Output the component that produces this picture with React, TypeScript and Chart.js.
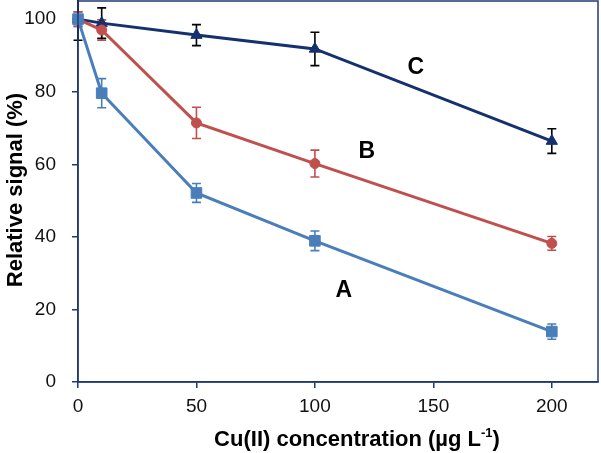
import React, { useEffect, useRef } from "react";
import { Chart, registerables } from "chart.js";

Chart.register(...registerables);

const concentrations = [0, 10, 50, 100, 200];
const signalA = [100, 79.6, 52.1, 38.9, 13.9];
const signalB = [100, 97, 71.4, 60.2, 38.2];
const signalC = [100, 98.9, 95.6, 91.8, 66.4];
const errorA = [2, 4, 2.6, 2.7, 2.1];
const errorB = [2, 2.8, 4.3, 3.7, 1.9];
const errorC = [5.8, 4.2, 2.9, 4.6, 3.4];
const seriesNames = ["A", "B", "C"];
const labelX = [112.2, 121.9, 142.6];
const labelY = [25.3, 63.4, 86.5];
const xTicks = [0, 50, 100, 150, 200];
const yTicks = [0, 20, 40, 60, 80, 100];

const COLOR_A = "#4A7EBB";
const COLOR_B = "#C0504D";
const COLOR_C = "#14306E";
const AXIS = "#1F3A72";
const FONT = "'Liberation Sans', Arial, sans-serif";

export default function App() {
  const ref = useRef<HTMLCanvasElement>(null);
  useEffect(() => {
    document.body.style.margin = "0";
    const errs = [errorA, errorB, errorC];
    const errColors = [COLOR_A, COLOR_B, "#000000"];
    const plugin = {
      id: "extras",
      beforeDatasetsDraw(chart: any) {
        const ctx = chart.ctx;
        const xs = chart.scales.x;
        const ys = chart.scales.y;
        ctx.save();
        chart.data.datasets.forEach((ds: any, i: number) => {
          ctx.strokeStyle = errColors[i];
          ctx.lineWidth = 1.6;
          ds.data.forEach((p: any, j: number) => {
            const px = xs.getPixelForValue(p.x);
            const t = ys.getPixelForValue(p.y + errs[i][j]);
            const b = ys.getPixelForValue(p.y - errs[i][j]);
            ctx.beginPath();
            ctx.moveTo(px, t);
            ctx.lineTo(px, b);
            ctx.moveTo(px - 4.5, t);
            ctx.lineTo(px + 4.5, t);
            ctx.moveTo(px - 4.5, b);
            ctx.lineTo(px + 4.5, b);
            ctx.stroke();
          });
        });
        ctx.restore();
      },
      afterDraw(chart: any) {
        const ctx = chart.ctx;
        const xs = chart.scales.x;
        const ys = chart.scales.y;
        const a = chart.chartArea;
        ctx.save();
        ctx.strokeStyle = AXIS;
        ctx.lineWidth = 1.5;
        ctx.strokeRect(a.left, a.top, a.right - a.left, a.bottom - a.top);
        ctx.fillStyle = "#000";
        ctx.font = `bold 23px ${FONT}`;
        ctx.textAlign = "center";
        ctx.textBaseline = "middle";
        seriesNames.forEach((n, i) => {
          ctx.fillText(n, xs.getPixelForValue(labelX[i]), ys.getPixelForValue(labelY[i]));
        });
        ctx.textBaseline = "alphabetic";
        ctx.textAlign = "left";
        const main = "Cu(II) concentration (µg L";
        const sup = "-1";
        const end = ")";
        ctx.font = `bold 22px ${FONT}`;
        const w1 = ctx.measureText(main).width;
        const w3 = ctx.measureText(end).width;
        ctx.font = `bold 13px ${FONT}`;
        const w2 = ctx.measureText(sup).width;
        const total = w1 + w2 + w3;
        const cx = 357;
        const x0 = cx - total / 2;
        const base = 446;
        ctx.font = `bold 22px ${FONT}`;
        ctx.fillText(main, x0, base);
        ctx.font = `bold 13px ${FONT}`;
        ctx.fillText(sup, x0 + w1, base - 9);
        ctx.font = `bold 22px ${FONT}`;
        ctx.fillText(end, x0 + w1 + w2, base);
        ctx.translate(22, 190);
        ctx.rotate(-Math.PI / 2);
        ctx.textAlign = "center";
        ctx.fillText("Relative signal (%)", 0, 0);
        ctx.restore();
      },
    };

    const mk = (label: string, vals: number[], color: string, style: string, r: number) => ({
      label,
      data: concentrations.map((c, i) => ({ x: c, y: vals[i] })),
      borderColor: color,
      backgroundColor: color,
      borderWidth: 3,
      pointStyle: style,
      pointRadius: r,
      pointBorderWidth: 1,
      pointBorderColor: color,
      pointBackgroundColor: color,
      showLine: true,
      tension: 0,
      clip: false,
    });

    const chart = new Chart(ref.current!, {
      type: "scatter",
      data: {
        datasets: [
          mk("A", signalA, COLOR_A, "rect", 7.5),
          mk("B", signalB, COLOR_B, "circle", 5),
          mk("C", signalC, COLOR_C, "triangle", 6.5),
        ],
      },
      options: {
        animation: false,
        responsive: false,
        maintainAspectRatio: false,
        layout: { autoPadding: false, padding: { top: 1, right: 3, left: 0, bottom: 0 } },
        plugins: { legend: { display: false }, tooltip: { enabled: false } },
        scales: {
          x: {
            type: "linear",
            min: 0,
            max: 219.5,
            afterBuildTicks: (s: any) => {
              s.ticks = xTicks.map((v) => ({ value: v }));
            },
            afterFit: (s: any) => {
              s.height = 71;
              s.paddingLeft = 0;
              s.paddingRight = 0;
            },
            grid: { display: true, drawOnChartArea: false, drawTicks: true, tickLength: 6, color: AXIS, lineWidth: 1.5 },
            border: { display: true, color: AXIS, width: 1.5 },
            ticks: { color: "#111", font: { family: FONT, size: 19 }, padding: 7, maxRotation: 0 },
          },
          y: {
            type: "linear",
            min: 0,
            max: 105,
            afterBuildTicks: (s: any) => {
              s.ticks = yTicks.map((v) => ({ value: v }));
            },
            afterFit: (s: any) => {
              s.width = 78;
              s.paddingTop = 0;
              s.paddingBottom = 0;
            },
            grid: { display: true, drawOnChartArea: false, drawTicks: true, tickLength: 6, color: AXIS, lineWidth: 1.5 },
            border: { display: true, color: AXIS, width: 1.5 },
            ticks: { color: "#111", font: { family: FONT, size: 19 }, padding: 16 },
          },
        },
      },
      plugins: [plugin],
    } as any);
    return () => chart.destroy();
  }, []);
  return (
    <div style={{ width: 601, height: 453 }}>
      <canvas ref={ref} width={601} height={453} style={{ display: "block" }} />
    </div>
  );
}
